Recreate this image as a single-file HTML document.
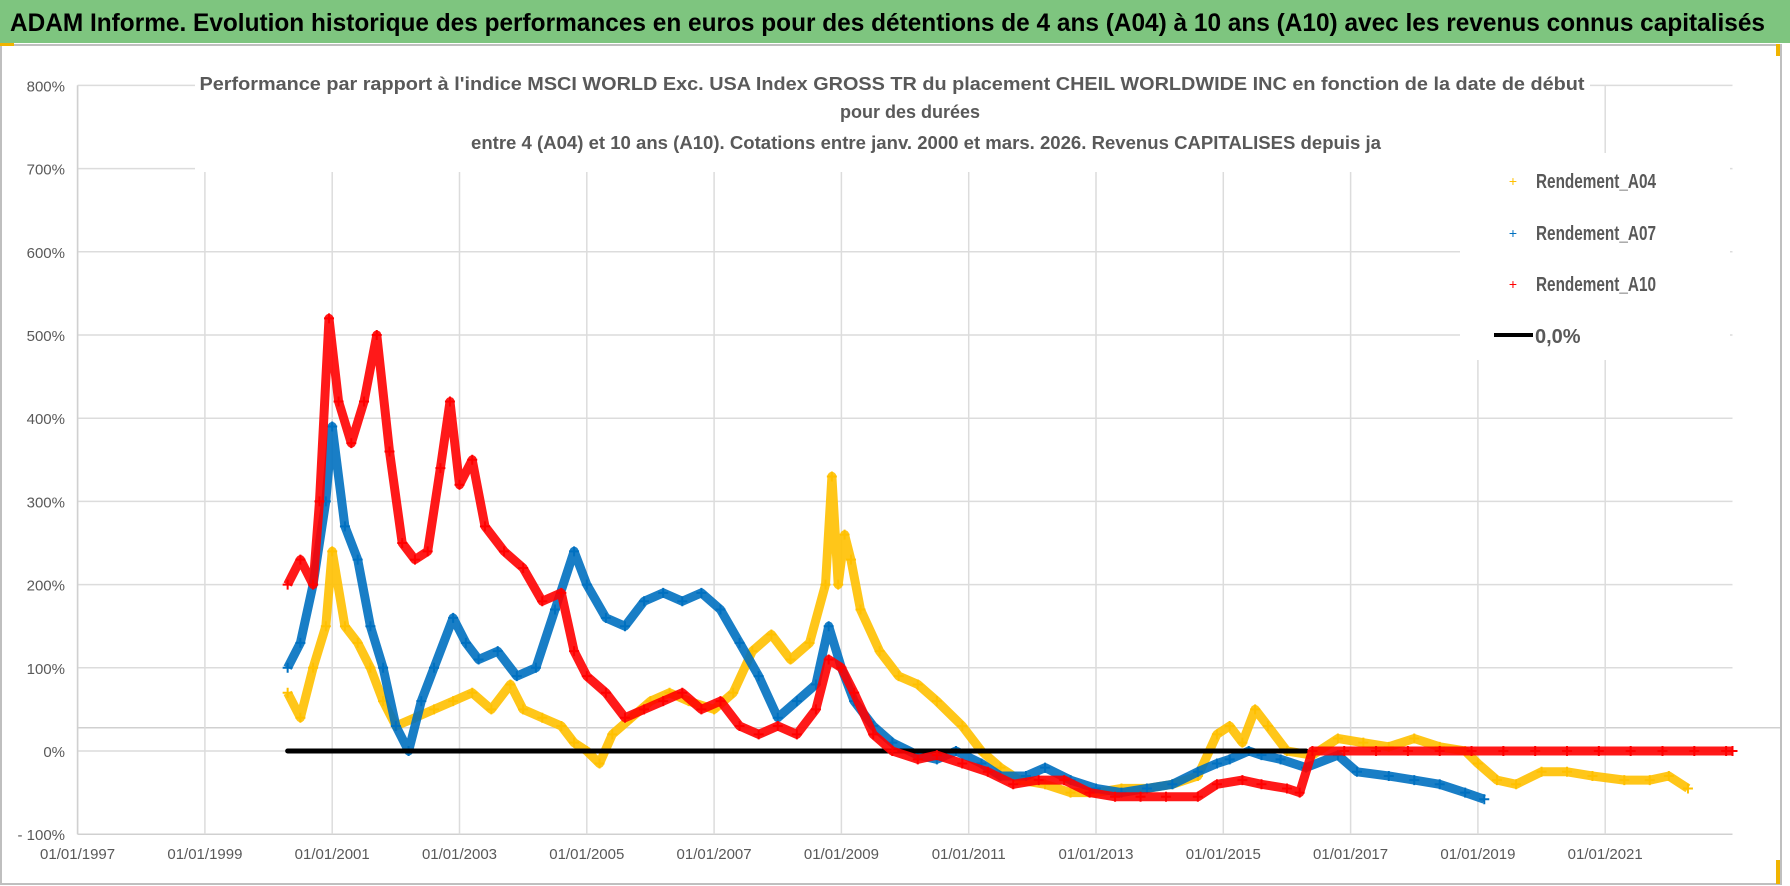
<!DOCTYPE html>
<html><head><meta charset="utf-8">
<style>
html,body{margin:0;padding:0;background:#fff;}
svg{display:block;font-family:"Liberation Sans",sans-serif;}
</style></head>
<body>
<svg id="chart" width="1790" height="886" viewBox="0 0 1790 886" xmlns="http://www.w3.org/2000/svg">
<rect x="0" y="0" width="1790" height="43" fill="#7ec57f"/>
<text x="10" y="31" font-size="25" font-weight="bold" fill="#000" textLength="1755" lengthAdjust="spacingAndGlyphs">ADAM Informe. Evolution historique des performances en euros pour des détentions de 4 ans (A04) à 10 ans (A10) avec les revenus connus capitalisés</text>
<rect x="1" y="45" width="1780" height="839" fill="#fff" stroke="#bfbfbf" stroke-width="2"/>
<rect x="0" y="43" width="14" height="3" fill="#f0b400"/>
<rect x="1776" y="44" width="4" height="12" fill="#f0b400"/>
<rect x="1776" y="860" width="4" height="24" fill="#f0b400"/>
<g id="grid"></g>
<g id="yaxis"></g>
<g id="xaxis"></g>
<g id="plot"></g>
<g>
<rect x="195" y="70" width="1395" height="102" fill="#fff"/>
<text x="892" y="90" font-size="18" font-weight="bold" fill="#595959" text-anchor="middle" textLength="1385" lengthAdjust="spacingAndGlyphs">Performance par rapport à l'indice MSCI WORLD Exc. USA Index GROSS TR  du placement CHEIL WORLDWIDE INC en fonction de la date de début</text>
<text x="910" y="118" font-size="18" font-weight="bold" fill="#595959" text-anchor="middle" textLength="140" lengthAdjust="spacingAndGlyphs">pour des durées</text>
<text x="926" y="149" font-size="18" font-weight="bold" fill="#595959" text-anchor="middle" textLength="910" lengthAdjust="spacingAndGlyphs">entre 4 (A04) et 10 ans (A10).  Cotations entre janv. 2000 et mars. 2026. Revenus CAPITALISES depuis ja</text>
</g>
<g>
<rect x="1460" y="153" width="270" height="207" fill="#fff"/>
<g>
<text x="1513" y="186" font-size="14" fill="#ffc000" text-anchor="middle">+</text>
<text x="1536" y="188" font-size="20" font-weight="bold" fill="#595959" textLength="120" lengthAdjust="spacingAndGlyphs">Rendement_A04</text></g>
<g>
<text x="1513" y="238" font-size="14" fill="#0070c0" text-anchor="middle">+</text>
<text x="1536" y="240" font-size="20" font-weight="bold" fill="#595959" textLength="120" lengthAdjust="spacingAndGlyphs">Rendement_A07</text></g>
<g>
<text x="1513" y="289" font-size="14" fill="#ff0000" text-anchor="middle">+</text>
<text x="1536" y="291" font-size="20" font-weight="bold" fill="#595959" textLength="120" lengthAdjust="spacingAndGlyphs">Rendement_A10</text></g>
<g>
<line x1="1494" y1="335" x2="1533" y2="335" stroke="#000" stroke-width="4"/>
<text x="1535" y="343" font-size="20" font-weight="bold" fill="#595959">0,0%</text></g>
</g>
</svg>
<script>
const yTicks = [-100,0,100,200,300,400,500,600,700,800];
const xTickYears = [1997,1999,2001,2003,2005,2007,2009,2011,2013,2015,2017,2019,2021];
const a04Years = [2000.3,2000.5,2000.7,2000.9,2001.0,2001.2,2001.4,2001.6,2001.8,2002.0,2002.3,2002.6,2002.9,2003.2,2003.5,2003.8,2004.0,2004.3,2004.6,2004.8,2005.0,2005.2,2005.4,2005.7,2006.0,2006.3,2006.6,2007.0,2007.3,2007.6,2007.9,2008.2,2008.5,2008.75,2008.85,2008.95,2009.05,2009.15,2009.3,2009.6,2009.9,2010.2,2010.5,2010.9,2011.2,2011.5,2011.8,2012.2,2012.6,2013.0,2013.4,2013.8,2014.2,2014.6,2014.9,2015.1,2015.3,2015.5,2015.7,2016.0,2016.4,2016.8,2017.2,2017.6,2018.0,2018.4,2018.8,2019.0,2019.3,2019.6,2020.0,2020.4,2020.8,2021.3,2021.7,2022.0,2022.3];
const a04Values = [70,40,100,150,240,150,130,100,60,30,40,50,60,70,50,80,50,40,30,10,0,-15,20,40,60,70,60,50,70,120,140,110,130,200,330,200,260,230,170,120,90,80,60,30,0,-20,-35,-40,-50,-50,-45,-45,-40,-30,20,30,10,50,30,0,-5,15,10,5,15,5,0,-15,-35,-40,-25,-25,-30,-35,-35,-30,-45];
const a07Years = [2000.3,2000.5,2000.7,2000.9,2001.0,2001.2,2001.4,2001.6,2001.8,2002.0,2002.2,2002.4,2002.6,2002.9,2003.1,2003.3,2003.6,2003.9,2004.2,2004.5,2004.8,2005.0,2005.3,2005.6,2005.9,2006.2,2006.5,2006.8,2007.1,2007.4,2007.7,2008.0,2008.3,2008.6,2008.8,2009.0,2009.2,2009.5,2009.8,2010.2,2010.5,2010.8,2011.2,2011.5,2011.9,2012.2,2012.6,2013.0,2013.4,2013.8,2014.2,2014.6,2014.9,2015.1,2015.4,2015.6,2015.9,2016.3,2016.8,2017.1,2017.6,2018.0,2018.4,2018.8,2019.1];
const a07Values = [100,130,200,300,390,270,230,150,100,30,0,60,100,160,130,110,120,90,100,170,240,200,160,150,180,190,180,190,170,130,90,40,60,80,150,100,60,30,10,-5,-10,0,-15,-30,-30,-20,-35,-45,-50,-45,-40,-25,-15,-10,0,-5,-10,-20,-5,-25,-30,-35,-40,-50,-58];
const a10Years = [2000.3,2000.5,2000.7,2000.8,2000.95,2001.1,2001.3,2001.5,2001.7,2001.9,2002.1,2002.3,2002.5,2002.7,2002.85,2003.0,2003.2,2003.4,2003.7,2004.0,2004.3,2004.6,2004.8,2005.0,2005.3,2005.6,2005.9,2006.2,2006.5,2006.8,2007.1,2007.4,2007.7,2008.0,2008.3,2008.6,2008.8,2009.0,2009.2,2009.5,2009.8,2010.2,2010.5,2010.9,2011.3,2011.7,2012.1,2012.5,2012.9,2013.3,2013.7,2014.1,2014.6,2014.9,2015.3,2015.6,2016.0,2016.2,2016.4,2016.9,2017.4,2017.9,2018.4,2018.9,2019.4,2019.9,2020.4,2020.9,2021.4,2021.9,2022.4,2022.9,2023.0];
const a10Values = [200,230,200,300,520,420,370,420,500,360,250,230,240,340,420,320,350,270,240,220,180,190,120,90,70,40,50,60,70,50,60,30,20,30,20,50,110,100,70,20,0,-10,-5,-15,-25,-40,-35,-35,-50,-55,-55,-55,-55,-40,-35,-40,-45,-50,0,0,0,0,0,0,0,0,0,0,0,0,0,0,0];
const zeroYears = [2000.3,2016.3];
const zeroValues = [0,0];

const NS='http://www.w3.org/2000/svg';
const xLeft=77.6, xPerYear=63.65, y0=751, yPer=0.832;
function xs(yr){return xLeft+(yr-1997)*xPerYear;}
function ys(v){return y0-v*yPer;}
function mk(tag,attrs,parent){const e=document.createElementNS(NS,tag);for(const k in attrs)e.setAttribute(k,attrs[k]);parent.appendChild(e);return e;}
const grid=document.getElementById('grid'),yax=document.getElementById('yaxis'),xax=document.getElementById('xaxis'),plot=document.getElementById('plot');
const xEnd=xs(2023);
yTicks.forEach(v=>{
  const l=mk('line',{x1:xLeft,x2:xEnd,y1:ys(v),y2:ys(v),stroke:v===-100?'#d0d0d0':'#dcdcdc','stroke-width':1.5},grid);
  
  
  const t=mk('text',{x:65,y:ys(v)+6,'font-size':15,fill:'#595959','text-anchor':'end'},yax);
  t.textContent=(v<0?'- '+(-v):v)+'%';
  
  
});
const extra=mk('line',{x1:xLeft,x2:1780,y1:ys(28),y2:ys(28),stroke:'#d0d0d0','stroke-width':1.5},grid);


xTickYears.forEach(yr=>{
  const l=mk('line',{x1:xs(yr),x2:xs(yr),y1:ys(800),y2:ys(-100),stroke:'#dcdcdc','stroke-width':1.5},grid);
  
  
  const t=mk('text',{x:xs(yr),y:859,'font-size':15,fill:'#595959','text-anchor':'middle'},xax);
  t.textContent='01/01/'+yr;
  
  
});
const ax=mk('line',{x1:xLeft,x2:xLeft,y1:ys(800),y2:ys(-100),stroke:'#d0d0d0','stroke-width':1.5},grid);



function series(years,vals,color,name){
  const g=mk('g',{},plot);
  
  
  const pts=years.map((y,i)=>xs(y).toFixed(1)+','+ys(vals[i]).toFixed(1)).join(' ');
  const pl=mk('polyline',{points:pts,fill:'none',stroke:color,'stroke-width':9,'stroke-linejoin':'round','stroke-opacity':0.9},g);
  
  
  years.forEach((y,i)=>{
    const x=xs(y),yy=ys(vals[i]);
    const p=mk('path',{d:`M${x-5},${yy}H${x+5}M${x},${yy-5}V${yy+5}`,stroke:color,'stroke-width':2},g);
    
    
  });
}
series(a04Years,a04Values,'#ffc000','series-a04');
series(a07Years,a07Values,'#0070c0','series-a07');
const zl=mk('line',{x1:xs(zeroYears[0]),x2:xs(zeroYears[1]),y1:ys(zeroValues[0]),y2:ys(zeroValues[1]),stroke:'#000','stroke-width':5,'stroke-linecap':'round'},plot);


series(a10Years,a10Values,'#ff0000','series-a10');
</script>
</body></html>
